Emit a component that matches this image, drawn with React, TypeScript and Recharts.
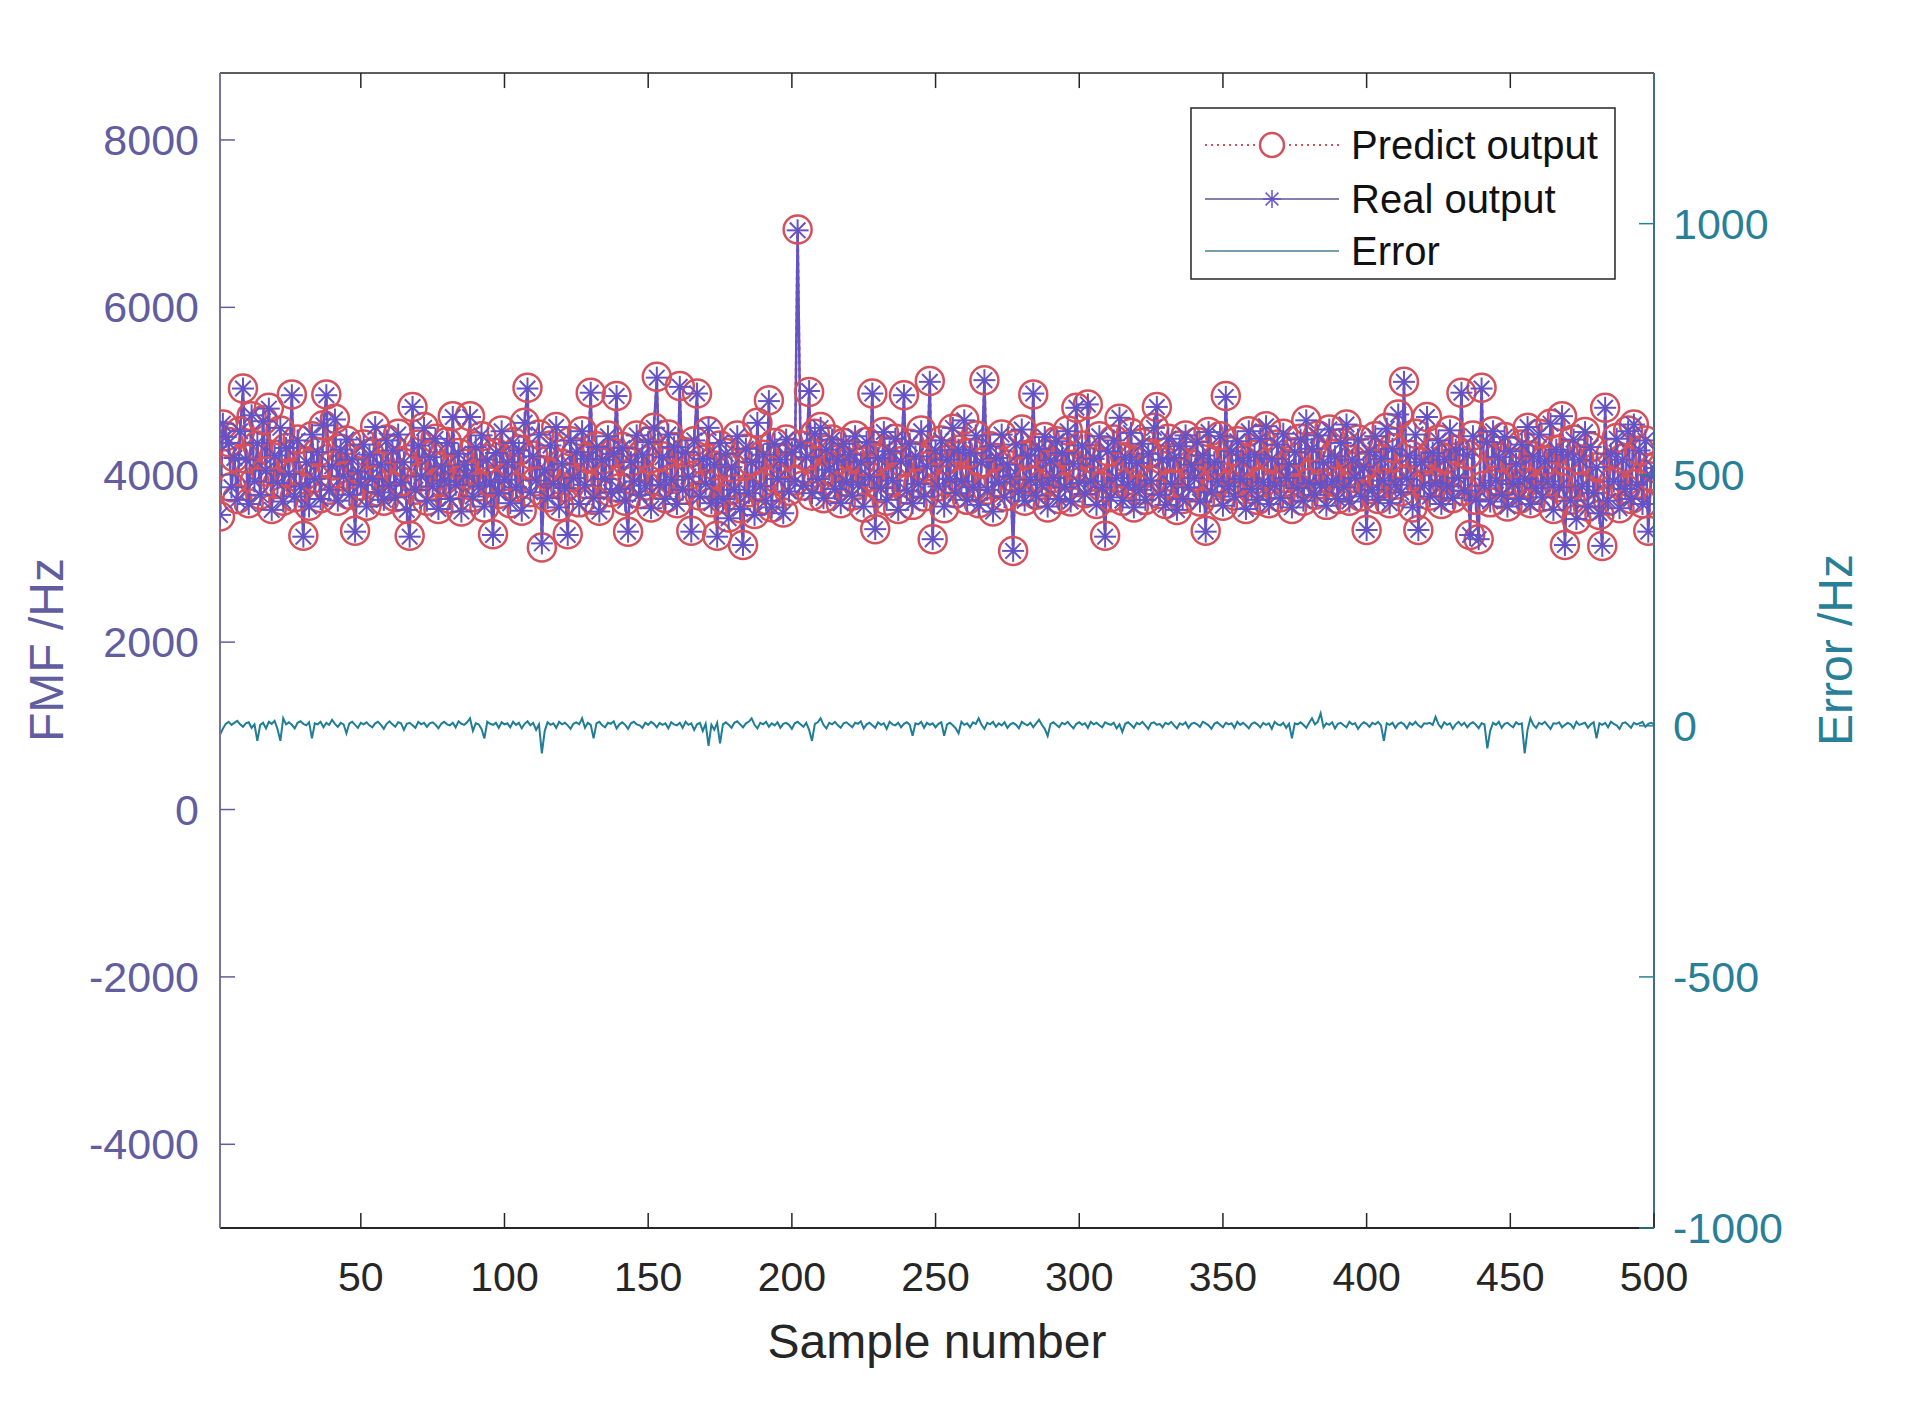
import { ComposedChart, Line, XAxis, YAxis, Legend, Label, ReferenceLine } from 'recharts';

// FMF values (Hz), sample 1..500
const real = [
  3520, 4610, 4450, 4380, 3850, 4200, 3700, 4520, 5030, 4180, 3650, 4710, 3920, 4380, 3760, 4640, 4050, 4790, 3580, 4230,
  3900, 4560, 3680, 4320, 4010, 4950, 3740, 4410, 3860, 3260, 4150, 3620, 4480, 3950, 4270, 3710, 4590, 4950, 3820, 4100,
  4660, 3690, 4300, 3980, 4420, 3760, 4180, 3320, 4040, 3880, 4360, 3620, 4240, 3950, 4570, 3790, 4120, 3700, 4410, 3870,
  4290, 3730, 4480, 3910, 4150, 3580, 3260, 4810, 3820, 4350, 3980, 4560, 3690, 4210, 3860, 4430, 3590, 4100, 3930, 4380,
  3710, 4690, 3880, 4250, 3560, 4120, 3990, 4690, 3740, 4330, 3860, 4470, 3620, 4180, 3910, 3280, 4260, 3780, 4520, 3940,
  4150, 3660, 4380, 3850, 4290, 3570, 4620, 5030, 3790, 4220, 3930, 4480, 3180, 4060, 3720, 4350, 3890, 4570, 3610, 4130,
  3840, 3280, 4410, 3960, 4270, 3650, 4520, 3880, 4190, 4980, 3720, 4330, 3560, 4180, 3950, 4460, 3790, 4250, 4940, 3830,
  4320, 3690, 3320, 4150, 3920, 4470, 3760, 4240, 3870, 4390, 3600, 4560, 5160, 3880, 4210, 3710, 4480, 3940, 4330, 3650,
  5050, 3820, 4270, 3980, 3320, 4410, 4970, 3740, 4190, 3890, 4560, 3660, 4120, 3260, 4380, 3710, 4250, 3480, 4090, 3820,
  4460, 3590, 3160, 4310, 3780, 4150, 3520, 4620, 3860, 4240, 3690, 4880, 3610, 4370, 3950, 4180, 3540, 4420, 3800, 4270,
  3920, 6920, 4350, 3870, 4210, 5000, 3780, 4490, 3950, 4560, 3720, 4300, 4060, 4420, 3830, 4180, 3660, 4370, 3910, 4240,
  3750, 4460, 3880, 4150, 3620, 4390, 3970, 4970, 3350, 4200, 3840, 4510, 3700, 4280, 3930, 4430, 3580, 4160, 4950, 3810,
  4370, 3660, 4220, 3890, 4520, 3740, 4100, 5110, 3230, 4290, 3860, 4410, 3620, 4180, 3950, 4560, 3780, 4300, 3920, 4650,
  3700, 4260, 3850, 4470, 3640, 4150, 5130, 3820, 4340, 3560, 4200, 3910, 4480, 3730, 4120, 3980, 3090, 4360, 3800, 4540,
  3690, 4230, 3940, 4970, 3750, 4310, 3880, 4450, 3620, 4170, 3960, 4400, 3710, 4260, 3850, 4520, 3680, 4130, 4800, 3900,
  4350, 3770, 4840, 3920, 4190, 3640, 4460, 3850, 3260, 4280, 3730, 4410, 3960, 4680, 3690, 4210, 3880, 4500, 3610, 4140,
  3820, 4370, 3700, 4250, 3930, 4560, 4810, 3760, 4180, 3640, 4430, 3890, 4200, 3580, 4340, 3710, 4470, 3850, 4120, 3960,
  4390, 3680, 4230, 3320, 4510, 3790, 4150, 3920, 4460, 3630, 4930, 3860, 4280, 3740, 4400, 3950, 4170, 3590, 4520, 3830,
  4240, 3700, 4430, 3910, 4580, 3650, 4190, 3870, 4360, 3720, 4490, 3960, 4130, 3610, 4270, 3840, 4420, 3690, 4650, 3900,
  4310, 3760, 4470, 3880, 4150, 3630, 4540, 3920, 4220, 3710, 4380, 3850, 4600, 3680, 4180, 3960, 4420, 3740, 4090, 3340,
  4270, 3820, 4460, 3700, 4190, 3930, 4550, 3660, 4310, 3880, 4720, 3790, 5110, 3950, 4230, 3610, 4480, 3340, 4150, 3870,
  4690, 3740, 4260, 3900, 4410, 3650, 4180, 3860, 4530, 3720, 4300, 3960, 4980, 3810, 4240, 3280, 4460, 3700, 3230, 5030,
  3870, 4390, 3680, 4520, 3930, 4210, 3760, 4450, 3620, 4280, 3890, 4130, 3710, 4360, 3950, 4570, 3650, 4220, 3840, 4480,
  3730, 4160, 3920, 4610, 3580, 4300, 3850, 4700, 3160, 4240, 3690, 4420, 3470, 4180, 3860, 4510, 3620, 4330, 3780, 4090,
  3540, 3150, 4800, 3690, 4250, 3920, 4430, 3600, 4180, 3830, 4520, 3710, 4600, 3880, 4290, 3650, 4410, 3320, 3980, 4080,
];

const predict = [
  3500, 4600, 4460, 4390, 3850, 4210, 3710, 4520, 5030, 4190, 3660, 4700, 3920, 4350, 3760, 4650, 4040, 4800, 3590, 4240,
  3890, 4530, 3690, 4320, 4020, 4960, 3730, 4420, 3860, 3270, 4160, 3630, 4460, 3960, 4270, 3720, 4590, 4960, 3820, 4110,
  4670, 3690, 4310, 3980, 4410, 3760, 4190, 3330, 4040, 3870, 4360, 3630, 4250, 3950, 4580, 3800, 4120, 3690, 4420, 3880,
  4300, 3730, 4490, 3920, 4140, 3590, 3270, 4810, 3820, 4360, 3980, 4570, 3690, 4220, 3870, 4430, 3590, 4100, 3940, 4390,
  3710, 4700, 3880, 4260, 3560, 4130, 4000, 4700, 3730, 4340, 3860, 4460, 3610, 4190, 3920, 3290, 4260, 3770, 4530, 3940,
  4160, 3660, 4390, 3850, 4300, 3570, 4620, 5040, 3790, 4230, 3920, 4480, 3130, 4050, 3730, 4350, 3900, 4570, 3620, 4130,
  3850, 3290, 4400, 3970, 4270, 3670, 4520, 3890, 4190, 4980, 3700, 4340, 3570, 4180, 3950, 4470, 3790, 4260, 4940, 3840,
  4330, 3690, 3320, 4160, 3930, 4470, 3770, 4250, 3870, 4400, 3610, 4560, 5170, 3880, 4220, 3720, 4480, 3950, 4330, 3660,
  5060, 3820, 4270, 3990, 3330, 4400, 4970, 3750, 4180, 3890, 4520, 3670, 4110, 3270, 4350, 3710, 4260, 3490, 4090, 3830,
  4470, 3600, 3160, 4310, 3790, 4160, 3530, 4620, 3870, 4240, 3700, 4890, 3610, 4380, 3950, 4190, 3550, 4420, 3810, 4260,
  3930, 6930, 4350, 3870, 4220, 4990, 3750, 4490, 3960, 4570, 3720, 4300, 4070, 4420, 3840, 4180, 3660, 4380, 3920, 4240,
  3750, 4470, 3880, 4160, 3610, 4390, 3980, 4970, 3350, 4210, 3840, 4510, 3690, 4290, 3930, 4430, 3590, 4160, 4950, 3820,
  4370, 3640, 4220, 3890, 4530, 3740, 4100, 5120, 3230, 4290, 3860, 4410, 3600, 4180, 3950, 4550, 3780, 4300, 3920, 4660,
  3700, 4260, 3850, 4470, 3660, 4150, 5130, 3820, 4340, 3560, 4200, 3910, 4480, 3740, 4120, 3980, 3090, 4360, 3800, 4540,
  3690, 4240, 3940, 4960, 3760, 4320, 3880, 4450, 3610, 4150, 3960, 4400, 3710, 4270, 3850, 4530, 3680, 4120, 4800, 3910,
  4350, 3780, 4840, 3930, 4190, 3650, 4460, 3850, 3270, 4280, 3730, 4420, 3960, 4670, 3690, 4210, 3890, 4500, 3610, 4150,
  3820, 4380, 3700, 4260, 3930, 4560, 4810, 3770, 4180, 3650, 4430, 3890, 4200, 3580, 4350, 3710, 4470, 3850, 4120, 3970,
  4390, 3680, 4230, 3330, 4510, 3790, 4160, 3920, 4460, 3630, 4940, 3860, 4280, 3750, 4400, 3950, 4170, 3590, 4520, 3830,
  4240, 3700, 4430, 3910, 4580, 3660, 4190, 3880, 4360, 3730, 4490, 3960, 4130, 3590, 4270, 3840, 4430, 3690, 4650, 3900,
  4330, 3760, 4470, 3890, 4150, 3640, 4540, 3920, 4250, 3710, 4380, 3850, 4600, 3690, 4180, 3960, 4420, 3740, 4090, 3340,
  4270, 3830, 4460, 3710, 4190, 3900, 4560, 3660, 4320, 3880, 4720, 3800, 5110, 3950, 4240, 3610, 4490, 3340, 4150, 3880,
  4690, 3750, 4260, 3900, 4420, 3650, 4190, 3860, 4530, 3720, 4300, 3970, 4980, 3810, 4240, 3280, 4470, 3700, 3230, 5040,
  3870, 4350, 3670, 4520, 3930, 4210, 3770, 4450, 3620, 4280, 3890, 4140, 3710, 4360, 3900, 4560, 3660, 4220, 3840, 4490,
  3730, 4170, 3920, 4610, 3590, 4300, 3850, 4700, 3160, 4240, 3700, 4420, 3470, 4180, 3860, 4510, 3620, 4330, 3780, 4090,
  3520, 3150, 4800, 3690, 4260, 3920, 4440, 3600, 4190, 3830, 4530, 3710, 4600, 3890, 4290, 3660, 4410, 3330, 3980, 4080,
];

// prediction error (Hz), right axis
const error = [
  -18, -6, 4, 8, 2, 6, 10, 3, -2, 5, 7, -4, 3, -30, 2, 6, -5, 8, 4, 10, -6, -30, 15, 3, 7,
  2, -5, 6, 9, 4, 1, 7, -25, 5, 3, 8, -3, 6, 2, 12, 4, -2, 6, 3, -15, 5, 8, 2, -4, 6,
  3, 7, 1, -3, 5, 8, 2, -6, 4, 9, 3, -2, 7, 5, -8, 4, 6, 1, -4, 8, 3, 6, -2, 5, 7,
  2, -5, 4, 8, 3, 1, 6, -3, 9, 4, 2, 7, 15, -10, 5, 3, -6, -25, 8, 4, 2, 6, -4, 7, 3,
  5, -3, 8, 2, 6, -5, 4, 9, 1, 6, -8, 3, -55, -10, 7, 2, 5, -4, 8, 3, 6, 1, -6, 4, 7,
  3, 15, -4, 6, 2, -25, 5, 8, 1, -3, 6, 4, 9, -5, 3, 7, 2, -6, 5, 8, 3, 1, -4, 6, 2,
  8, 4, -3, 6, 2, 5, -5, 7, 3, 1, 6, -4, 8, 2, 5, -8, 3, 6, -10, 4, -40, 2, -8, 6, -35,
  3, 7, 2, -4, 6, 9, 3, -3, 5, 8, 15, 2, -5, 6, 3, 8, -2, 5, 1, 7, -4, 4, 6, 2, -6,
  5, 8, 3, -2, 6, -8, -30, 4, 7, 15, 2, -5, 6, 3, 8, 1, -4, 5, 7, 2, -3, 6, 4, 9, -5,
  3, 6, 1, -4, 7, 2, 5, -6, 8, 3, 1, 6, -3, 4, 7, 2, -20, 5, 3, 8, -4, 6, 2, 5, -3,
  4, 7, -20, 3, 6, 1, -5, -15, 8, 2, 5, -3, 7, 4, 15, 2, -6, 6, 3, 8, -2, 5, 1, 7, -4,
  3, 6, 2, -5, 8, 4, 1, 6, -3, 5, 12, 2, -6, -20, 4, 7, 2, -3, 6, 3, 8, 1, -5, 4, 7,
  2, 5, -4, 8, 3, 6, 1, -3, 7, 4, 2, 6, -5, 3, -12, 4, 7, 2, -4, 6, 3, 8, 1, -6, 5,
  7, 2, 4, -3, 6, 3, 8, 1, -5, 5, 2, 7, -4, 4, 6, 3, -2, 8, 5, 1, -6, 4, 7, 2, -3,
  6, 3, 5, -4, 8, 2, 6, 1, -5, 4, 7, 3, -3, 6, 2, 5, -6, 8, 3, 1, 6, -4, 4, -25, 5,
  3, 7, 2, -4, 6, 15, 3, 8, 25, -3, 5, 2, 7, -5, 4, 6, 1, -3, 8, 3, 5, -6, 2, 7, 4,
  -2, 6, 3, 8, 1, -30, 5, 2, 6, -4, 4, 7, 3, -5, 6, 2, 8, 1, -3, 5, 4, 6, 2, 18, 3,
  -4, 7, 2, 5, -6, 3, 8, 1, 6, -3, 4, 7, 2, -5, 5, 3, -45, -10, 6, 2, 8, -4, 4, 6, 1,
  -3, 7, 3, 5, -55, -8, 15, 2, -4, 6, 3, 8, 1, -6, 5, 4, 7, -3, 2, 6, 3, -5, 8, 2, 4,
  6, -4, 3, 7, -25, 5, 2, 6, -3, 8, 4, 1, -6, 5, 7, 2, -4, 6, 3, 5, 8, -2, 4, 6, 3,
];

const xTicks = [50, 100, 150, 200, 250, 300, 350, 400, 450, 500];
const leftTicks = [-4000, -2000, 0, 2000, 4000, 6000, 8000];
const rightTicks = [-1000, -500, 0, 500, 1000];
const legendOrder = ['predict', 'real', 'error'];

const data = real.map((v, i) => ({ sample: i + 1, real: v, predict: predict[i], error: error[i] }));

const PRED = '#d4505c';
const REAL = '#6552c4';
const ERR = '#1f7d96';
const LEFT_COLOR = '#625d9e';
const RIGHT_COLOR = '#2a7f98';
const DARK = '#262626';

const LEFT_MAX = 8800;

const CircleDot = (props: any) => {
  const { cx, cy, index } = props;
  if (cx == null || cy == null) return <g key={`p${index}`} />;
  return <circle key={`p${index}`} cx={cx} cy={cy} r={14} fill="none" stroke={PRED} strokeWidth={2.5} />;
};

const Asterisk = ({ cx, cy, r, color, w = 2 }: { cx: number; cy: number; r: number; color: string; w?: number }) => {
  const d = r * 0.707;
  return (
    <g stroke={color} strokeWidth={w}>
      <line x1={cx - r} y1={cy} x2={cx + r} y2={cy} />
      <line x1={cx} y1={cy - r} x2={cx} y2={cy + r} />
      <line x1={cx - d} y1={cy - d} x2={cx + d} y2={cy + d} />
      <line x1={cx - d} y1={cy + d} x2={cx + d} y2={cy - d} />
    </g>
  );
};

const StarDot = (props: any) => {
  const { cx, cy, index } = props;
  if (cx == null || cy == null) return <g key={`r${index}`} />;
  return (
    <g key={`r${index}`}>
      <Asterisk cx={cx} cy={cy} r={11} color={REAL} />
    </g>
  );
};

const BottomTick = (props: any) => {
  const { x, y, payload } = props;
  return (
    <g>
      <line x1={x} y1={y} x2={x} y2={y - 15} stroke={DARK} strokeWidth={1.5} />
      <text x={x} y={y + 49} textAnchor="middle" dominantBaseline="central" fontSize={41} fill={DARK}>
        {payload.value}
      </text>
    </g>
  );
};

const LeftTick = (props: any) => {
  const { x, y, payload } = props;
  return (
    <g>
      <line x1={x} y1={y} x2={x + 15} y2={y} stroke={LEFT_COLOR} strokeWidth={1.5} />
      <text x={x - 21} y={y} textAnchor="end" dominantBaseline="central" fontSize={43} fill={LEFT_COLOR}>
        {payload.value}
      </text>
    </g>
  );
};

const RightTick = (props: any) => {
  const { x, y, payload } = props;
  return (
    <g>
      <line x1={x} y1={y} x2={x - 15} y2={y} stroke={RIGHT_COLOR} strokeWidth={1.5} />
      <text x={x + 19} y={y} textAnchor="start" dominantBaseline="central" fontSize={43} fill={RIGHT_COLOR}>
        {payload.value}
      </text>
    </g>
  );
};

const renderLegend = (props: any) => {
  const payload = [...(props.payload || [])].sort(
    (a: any, b: any) => legendOrder.indexOf(a.dataKey) - legendOrder.indexOf(b.dataKey)
  );
  const rowY = [38, 92, 144];
  return (
    <svg width={426} height={173} style={{ display: 'block' }}>
      <rect x={1} y={1} width={424} height={171} fill="#fff" stroke={DARK} strokeWidth={1.5} />
      {payload.map((entry: any, i: number) => {
        const y = rowY[i];
        const key = entry.dataKey;
        return (
          <g key={key}>
            {key === 'predict' && (
              <>
                <line x1={15} y1={y} x2={149} y2={y} stroke={PRED} strokeWidth={2} strokeDasharray="2 4" />
                <circle cx={82} cy={y} r={12} fill="#fff" stroke={PRED} strokeWidth={2.5} />
              </>
            )}
            {key === 'real' && (
              <>
                <line x1={15} y1={y} x2={149} y2={y} stroke="#5a5890" strokeWidth={1.5} />
                <Asterisk cx={82} cy={y} r={9} color={REAL} w={1.5} />
              </>
            )}
            {key === 'error' && <line x1={15} y1={y} x2={149} y2={y} stroke="#4a7f8f" strokeWidth={1.5} />}
            <text x={161} y={y} dominantBaseline="central" fontSize={40} fill="#111">
              {entry.value}
            </text>
          </g>
        );
      })}
    </svg>
  );
};

export default function App() {
  return (
    <div
      style={{
        position: 'absolute',
        left: 0,
        top: 0,
        width: 1912,
        height: 1410,
        background: '#fff',
        fontFamily: '"Liberation Sans", Arial, sans-serif',
      }}
    >
      <ComposedChart width={1912} height={1410} data={data} margin={{ top: 73, right: 0, bottom: 0, left: 0 }}>
        <XAxis
          dataKey="sample"
          type="number"
          domain={[1, 500]}
          ticks={xTicks}
          interval={0}
          height={182}
          tickSize={0}
          tickMargin={0}
          tick={<BottomTick />}
          axisLine={{ stroke: DARK, strokeWidth: 2 }}
          allowDataOverflow
        >
          <Label
            content={() => (
              <text x={937} y={1341} textAnchor="middle" dominantBaseline="central" fontSize={48} fill={DARK}>
                Sample number
              </text>
            )}
          />
        </XAxis>
        <YAxis
          yAxisId="left"
          orientation="left"
          width={220}
          domain={[-5000, LEFT_MAX]}
          ticks={leftTicks}
          interval={0}
          tickSize={0}
          tickMargin={0}
          tick={<LeftTick />}
          axisLine={{ stroke: '#77749a', strokeWidth: 2 }}
          allowDataOverflow
        >
          <Label
            content={() => (
              <text
                x={46}
                y={650}
                transform="rotate(-90 46 650)"
                textAnchor="middle"
                dominantBaseline="central"
                fontSize={48}
                fill={LEFT_COLOR}
              >
                FMF /Hz
              </text>
            )}
          />
        </YAxis>
        <YAxis
          yAxisId="right"
          orientation="right"
          width={258}
          domain={[-1000, 1300]}
          ticks={rightTicks}
          interval={0}
          tickSize={0}
          tickMargin={0}
          tick={<RightTick />}
          axisLine={{ stroke: '#3f7080', strokeWidth: 2 }}
          allowDataOverflow
        >
          <Label
            content={() => (
              <text
                x={1835}
                y={650}
                transform="rotate(-90 1835 650)"
                textAnchor="middle"
                dominantBaseline="central"
                fontSize={48}
                fill={RIGHT_COLOR}
              >
                Error /Hz
              </text>
            )}
          />
        </YAxis>
        {/* top box edge with its inward ticks */}
        <ReferenceLine yAxisId="left" y={LEFT_MAX} stroke={DARK} strokeWidth={1.5} ifOverflow="extendDomain" />
        {xTicks.map((t) => (
          <ReferenceLine
            key={`tt${t}`}
            yAxisId="left"
            segment={[
              { x: t, y: LEFT_MAX },
              { x: t, y: LEFT_MAX - 180 },
            ]}
            stroke={DARK}
            strokeWidth={1.5}
          />
        ))}
        <Legend
          layout="vertical"
          align="center"
          verticalAlign="middle"
          content={renderLegend}
          wrapperStyle={{ left: 1190, top: 107, width: 426, height: 173 }}
        />
        <Line
          yAxisId="left"
          type="linear"
          dataKey="predict"
          name="Predict output"
          stroke={PRED}
          strokeWidth={2.5}
          strokeDasharray="3 4"
          dot={CircleDot}
          activeDot={false}
          isAnimationActive={false}
        />
        <Line
          yAxisId="left"
          type="linear"
          dataKey="real"
          name="Real output"
          stroke={REAL}
          strokeWidth={2.5}
          dot={StarDot}
          activeDot={false}
          isAnimationActive={false}
        />
        <Line
          yAxisId="right"
          type="linear"
          dataKey="error"
          name="Error"
          stroke={ERR}
          strokeWidth={2}
          dot={false}
          activeDot={false}
          isAnimationActive={false}
        />
      </ComposedChart>
    </div>
  );
}
